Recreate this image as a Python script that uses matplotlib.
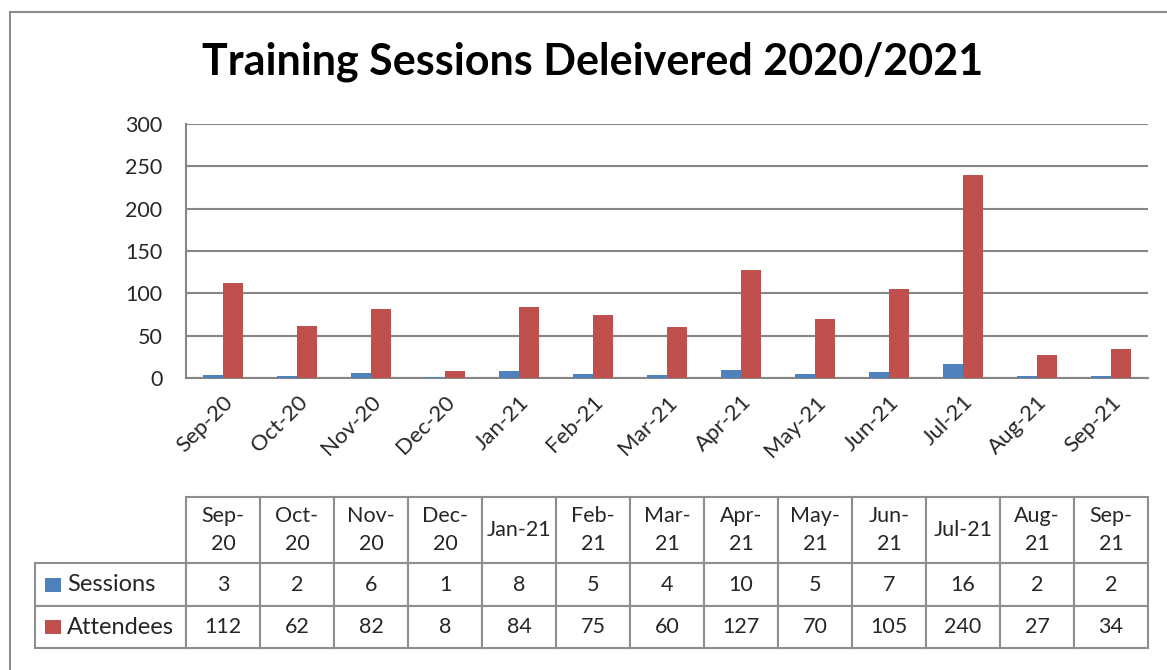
"""Training sessions bar chart with data table underneath."""

import matplotlib
matplotlib.use("Agg")
import matplotlib.pyplot as plt
from matplotlib.patches import Rectangle
import numpy as np

months = ["Sep-20", "Oct-20", "Nov-20", "Dec-20", "Jan-21", "Feb-21", "Mar-21",
          "Apr-21", "May-21", "Jun-21", "Jul-21", "Aug-21", "Sep-21"]
table_headers = ["Sep-\n20", "Oct-\n20", "Nov-\n20", "Dec-\n20", "Jan-21", "Feb-\n21",
                 "Mar-\n21", "Apr-\n21", "May-\n21", "Jun-\n21", "Jul-21", "Aug-\n21",
                 "Sep-\n21"]
series_names = ["Sessions", "Attendees"]
sessions = [3, 2, 6, 1, 8, 5, 4, 10, 5, 7, 16, 2, 2]
attendees = [112, 62, 82, 8, 84, 75, 60, 127, 70, 105, 240, 27, 34]
y_ticks = [0, 50, 100, 150, 200, 250, 300]

BLUE = "#4F81BD"
RED = "#C0504D"
GRID = "#868686"
TEXT = "#262626"

plt.rcParams["font.family"] = ["Lato", "DejaVu Sans"]

W, H = 1167, 670
fig = plt.figure(figsize=(W / 100, H / 100), dpi=100)

# outer chart frame (only left and top edges visible in the crop)
fig.add_artist(Rectangle((10 / W, -0.1), 1.2, 1 - 12 / H + 0.1, transform=fig.transFigure,
                         facecolor="none", edgecolor="#8C8C8C", linewidth=1.5))

fig.text(593 / W, 1 - 62 / H, "Training Sessions Deleivered 2020/2021",
         ha="center", va="center", fontsize=31, fontweight="bold", color="black")

ax_l, ax_r, ax_t, ax_b = 186, 1148, 124, 378
ax = fig.add_axes([ax_l / W, 1 - ax_b / H, (ax_r - ax_l) / W, (ax_b - ax_t) / H])

x = np.arange(len(months))
bw = 0.27
ax.bar(x - bw / 2, sessions, width=bw, color=BLUE, zorder=3)
ax.bar(x + bw / 2, attendees, width=bw, color=RED, zorder=3)

ax.set_xlim(-0.5, len(months) - 0.5)
ax.set_ylim(0, 300)
ax.set_yticks(y_ticks)
ax.grid(True, axis="y", color=GRID, linewidth=1.5, zorder=0)
for s in ["top", "right"]:
    ax.spines[s].set_visible(False)
for s in ["left", "bottom"]:
    ax.spines[s].set_color(GRID)
    ax.spines[s].set_linewidth(1.5)
ax.tick_params(axis="y", length=0, pad=17, labelsize=15.5, labelcolor=TEXT)
ax.set_xticks(x)
ax.set_xticklabels(months, rotation=45, ha="right", va="top", rotation_mode="anchor")
ax.tick_params(axis="x", length=0, pad=10, labelsize=16, labelcolor=TEXT)

# data table below the plot: first column holds the series names
ax_w = ax_r - ax_l
ax_h = ax_b - ax_t
tab_l, tab_t, tab_b = 35, 497, 648
label_w = ax_l - tab_l
bbox = [(tab_l - ax_l) / ax_w, (ax_b - tab_b) / ax_h,
        (ax_r - tab_l) / ax_w, (tab_b - tab_t) / ax_h]
cell_text = [[series_names[0]] + [str(v) for v in sessions],
             [series_names[1]] + [str(v) for v in attendees]]
tbl = ax.table(cellText=cell_text, colLabels=[""] + table_headers,
               cellLoc="center", bbox=bbox)
tbl.auto_set_font_size(False)
tbl.set_fontsize(15.5)
row_h = {0: 66, 1: 43, 2: 42}
for (r, c), cell in tbl.get_celld().items():
    cell.set_edgecolor("#8E8E8E")
    cell.set_linewidth(1.5)
    cell.get_text().set_color(TEXT)
    cell.set_height(row_h[r] / ax_h)
    cell.set_width((label_w if c == 0 else ax_w / len(months)) / ax_w)
    if r == 0:
        cell.get_text().set_linespacing(1.45)
    if c == 0:
        cell.get_text().set_horizontalalignment("left")
        cell.get_text().set_fontsize(17)
        cell.PAD = 32 / label_w
tbl[0, 0].visible_edges = "open"

# legend keys inside the series-name cells
for i, color in enumerate([BLUE, RED]):
    top = tab_t + sum(row_h[k] for k in range(0, i + 1))
    cy = top + row_h[i + 1] / 2
    ax.add_patch(Rectangle(((45 - ax_l) / ax_w, (ax_b - cy - 7) / ax_h),
                           16 / ax_w, 14 / ax_h, transform=ax.transAxes,
                           facecolor=color, edgecolor="none", clip_on=False, zorder=5))

fig.savefig("out.png", dpi=100)
